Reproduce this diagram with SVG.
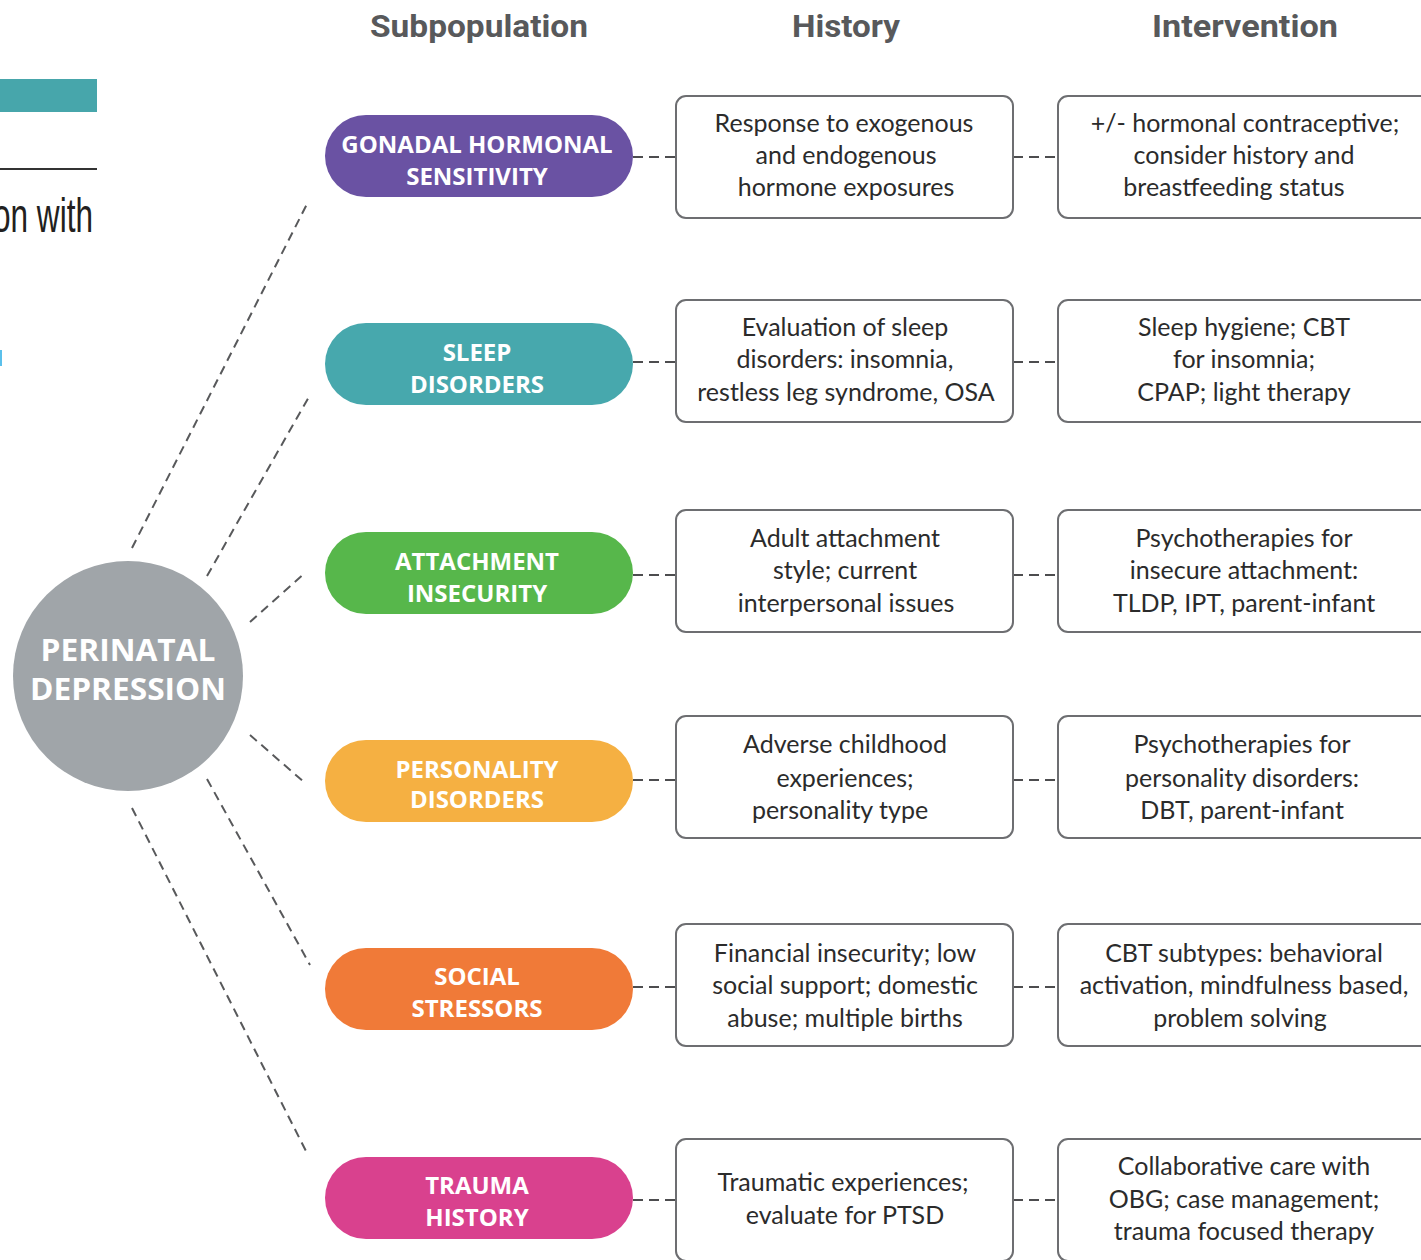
<svg xmlns="http://www.w3.org/2000/svg" width="1421" height="1260" viewBox="0 0 1421 1260">
  <defs>
    <style>
      .hdr { font-family: Roboto, "Liberation Sans", sans-serif; font-weight: 700; font-size: 31px; fill: #58595b; text-anchor: middle; }
      .pill-txt { font-family: "Open Sans", "Liberation Sans", sans-serif; font-weight: 700; font-size: 24px; fill: #ffffff; text-anchor: middle; }
      .hub-txt { font-family: "Open Sans", "Liberation Sans", sans-serif; font-weight: 700; font-size: 31px; fill: #ffffff; text-anchor: middle; }
      .box { fill: #ffffff; stroke: #6d6e71; stroke-width: 2; }
      .box-txt { font-family: Lato, "Liberation Sans", sans-serif; font-size: 25px; fill: #2b2b2b; text-anchor: middle; }
      .dash { fill: none; stroke: #58595b; stroke-width: 2; stroke-dasharray: 9 6; }
      .link { fill: none; stroke: #4d4d4f; stroke-width: 2; stroke-dasharray: 10 6; }
    </style>
  </defs>

  <rect width="1421" height="1260" fill="#ffffff"/>

  <!-- page fragments at the left edge -->
  <g id="page-edge">
    <rect x="0" y="79" width="97" height="33" fill="#47a6ab"/>
    <line x1="0" y1="169" x2="97" y2="169" stroke="#333333" stroke-width="2"/>
    <text x="93" y="232" font-family="'Liberation Sans Narrow', 'Liberation Sans', sans-serif" font-size="48" fill="#231f20" text-anchor="end" textLength="100" lengthAdjust="spacingAndGlyphs">on with</text>
    <rect x="0" y="350" width="2" height="16" fill="#5bc0eb"/>
  </g>

  <!-- column headers -->
  <g id="headers">
    <text class="hdr" x="479" y="37" textLength="218" lengthAdjust="spacingAndGlyphs">Subpopulation</text>
    <text class="hdr" x="846" y="37" textLength="108" lengthAdjust="spacingAndGlyphs">History</text>
    <text class="hdr" x="1245" y="37" textLength="186" lengthAdjust="spacingAndGlyphs">Intervention</text>
  </g>

  <!-- connectors -->
  <g id="connectors">
    <line class="dash" x1="132" y1="548" x2="308" y2="202"/>
    <line class="dash" x1="207" y1="576" x2="310" y2="395"/>
    <line class="dash" x1="250" y1="622" x2="305" y2="573"/>
    <line class="dash" x1="250" y1="735" x2="305" y2="783"/>
    <line class="dash" x1="207" y1="779" x2="310" y2="965"/>
    <line class="dash" x1="132" y1="808" x2="308" y2="1155"/>

    <line class="link" x1="633" y1="157" x2="676" y2="157"/>
    <line class="link" x1="1013" y1="157" x2="1058" y2="157"/>
    <line class="link" x1="633" y1="362" x2="676" y2="362"/>
    <line class="link" x1="1013" y1="362" x2="1058" y2="362"/>
    <line class="link" x1="633" y1="575" x2="676" y2="575"/>
    <line class="link" x1="1013" y1="575" x2="1058" y2="575"/>
    <line class="link" x1="633" y1="780" x2="676" y2="780"/>
    <line class="link" x1="1013" y1="780" x2="1058" y2="780"/>
    <line class="link" x1="633" y1="987" x2="676" y2="987"/>
    <line class="link" x1="1013" y1="987" x2="1058" y2="987"/>
    <line class="link" x1="633" y1="1200" x2="676" y2="1200"/>
    <line class="link" x1="1013" y1="1200" x2="1058" y2="1200"/>
  </g>

  <!-- central hub -->
  <g id="perinatal-depression">
    <circle cx="128" cy="676" r="115" fill="#a0a5a9"/>
    <text class="hub-txt" x="128" y="661" textLength="175" lengthAdjust="spacingAndGlyphs">PERINATAL</text>
    <text class="hub-txt" x="128" y="700" textLength="196" lengthAdjust="spacingAndGlyphs">DEPRESSION</text>
  </g>

  <!-- subpopulations -->
  <g id="gonadal-hormonal-sensitivity">
    <rect x="325" y="115" width="308" height="82" rx="41" fill="#6a52a3"/>
    <text class="pill-txt" x="477" y="153">GONADAL HORMONAL</text>
    <text class="pill-txt" x="477" y="185">SENSITIVITY</text>
  </g>
  <g id="sleep-disorders">
    <rect x="325" y="323" width="308" height="82" rx="41" fill="#47a8ad"/>
    <text class="pill-txt" x="477" y="361">SLEEP</text>
    <text class="pill-txt" x="477" y="393">DISORDERS</text>
  </g>
  <g id="attachment-insecurity">
    <rect x="325" y="532" width="308" height="82" rx="41" fill="#57b74b"/>
    <text class="pill-txt" x="477" y="570">ATTACHMENT</text>
    <text class="pill-txt" x="477" y="602">INSECURITY</text>
  </g>
  <g id="personality-disorders">
    <rect x="325" y="740" width="308" height="82" rx="41" fill="#f5b042"/>
    <text class="pill-txt" x="477" y="778">PERSONALITY</text>
    <text class="pill-txt" x="477" y="808">DISORDERS</text>
  </g>
  <g id="social-stressors">
    <rect x="325" y="948" width="308" height="82" rx="41" fill="#f07a38"/>
    <text class="pill-txt" x="477" y="985">SOCIAL</text>
    <text class="pill-txt" x="477" y="1017">STRESSORS</text>
  </g>
  <g id="trauma-history">
    <rect x="325" y="1157" width="308" height="82" rx="41" fill="#d9418e"/>
    <text class="pill-txt" x="477" y="1194">TRAUMA</text>
    <text class="pill-txt" x="477" y="1226">HISTORY</text>
  </g>

  <!-- history boxes -->
  <g id="history-gonadal">
    <rect class="box" x="676" y="96" width="337" height="122" rx="10"/>
    <text class="box-txt" x="844" y="132">Response to exogenous</text>
    <text class="box-txt" x="846" y="164">and endogenous</text>
    <text class="box-txt" x="846" y="196">hormone exposures</text>
  </g>
  <g id="history-sleep">
    <rect class="box" x="676" y="300" width="337" height="122" rx="10"/>
    <text class="box-txt" x="845" y="336">Evaluation of  sleep</text>
    <text class="box-txt" x="845" y="368">disorders: insomnia,</text>
    <text class="box-txt" x="846" y="401">restless leg syndrome, OSA</text>
  </g>
  <g id="history-attachment">
    <rect class="box" x="676" y="510" width="337" height="122" rx="10"/>
    <text class="box-txt" x="845" y="547">Adult attachment</text>
    <text class="box-txt" x="845" y="579">style; current</text>
    <text class="box-txt" x="846" y="612">interpersonal issues</text>
  </g>
  <g id="history-personality">
    <rect class="box" x="676" y="716" width="337" height="122" rx="10"/>
    <text class="box-txt" x="845" y="753">Adverse childhood</text>
    <text class="box-txt" x="845" y="787">experiences;</text>
    <text class="box-txt" x="840" y="819">personality type</text>
  </g>
  <g id="history-social">
    <rect class="box" x="676" y="924" width="337" height="122" rx="10"/>
    <text class="box-txt" x="845" y="962">Financial insecurity; low</text>
    <text class="box-txt" x="845" y="994">social support; domestic</text>
    <text class="box-txt" x="845" y="1027">abuse; multiple births</text>
  </g>
  <g id="history-trauma">
    <rect class="box" x="676" y="1139" width="337" height="122" rx="10"/>
    <text class="box-txt" x="843" y="1191">Traumatic experiences;</text>
    <text class="box-txt" x="845" y="1224">evaluate for PTSD</text>
  </g>

  <!-- intervention boxes -->
  <g id="intervention-gonadal">
    <rect class="box" x="1058" y="96" width="380" height="122" rx="10"/>
    <text class="box-txt" x="1245" y="132">+/- hormonal contraceptive;</text>
    <text class="box-txt" x="1244" y="164">consider history and</text>
    <text class="box-txt" x="1234" y="196">breastfeeding status</text>
  </g>
  <g id="intervention-sleep">
    <rect class="box" x="1058" y="300" width="380" height="122" rx="10"/>
    <text class="box-txt" x="1244" y="336">Sleep hygiene; CBT</text>
    <text class="box-txt" x="1244" y="368">for insomnia;</text>
    <text class="box-txt" x="1244" y="401">CPAP; light therapy</text>
  </g>
  <g id="intervention-attachment">
    <rect class="box" x="1058" y="510" width="380" height="122" rx="10"/>
    <text class="box-txt" x="1244" y="547">Psychotherapies for</text>
    <text class="box-txt" x="1244" y="579">insecure attachment:</text>
    <text class="box-txt" x="1244" y="612">TLDP, IPT, parent-infant</text>
  </g>
  <g id="intervention-personality">
    <rect class="box" x="1058" y="716" width="380" height="122" rx="10"/>
    <text class="box-txt" x="1242" y="753">Psychotherapies for</text>
    <text class="box-txt" x="1242" y="787">personality disorders:</text>
    <text class="box-txt" x="1242" y="819">DBT, parent-infant</text>
  </g>
  <g id="intervention-social">
    <rect class="box" x="1058" y="924" width="380" height="122" rx="10"/>
    <text class="box-txt" x="1244" y="962">CBT subtypes:  behavioral</text>
    <text class="box-txt" x="1244" y="994">activation, mindfulness based,</text>
    <text class="box-txt" x="1240" y="1027">problem solving</text>
  </g>
  <g id="intervention-trauma">
    <rect class="box" x="1058" y="1139" width="380" height="122" rx="10"/>
    <text class="box-txt" x="1244" y="1175">Collaborative care  with</text>
    <text class="box-txt" x="1244" y="1208">OBG; case management;</text>
    <text class="box-txt" x="1244" y="1240">trauma focused therapy</text>
  </g>
</svg>
